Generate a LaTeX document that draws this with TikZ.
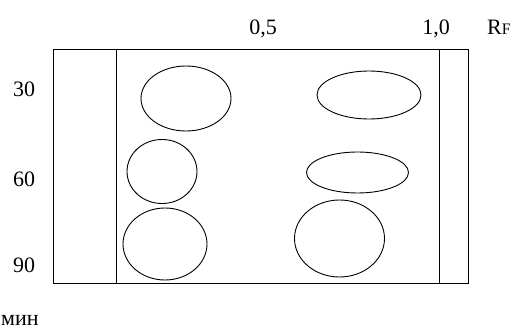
\documentclass[tikz,border=0pt]{standalone}
\usepackage{fontspec}
\setmainfont{Liberation Serif}
\usepackage{tikz}
\usetikzlibrary{positioning}

\tikzset{
  rand/.style={line width=0.9pt, black},
  fleck/.style={line width=0.9pt, black},
  lbl/.style={inner sep=0pt, anchor=base, font=\fontsize{22}{26}\selectfont}
}

\begin{document}
\begin{tikzpicture}[x=1pt, y=-1pt]
      \useasboundingbox (0,0) rectangle (515,334);

      % Rahmen
      \coordinate (nw) at (53,49);
      \coordinate (se) at (468,283);
      \draw[rand] (nw) rectangle (se);
      \draw[rand] (116,49) -- (116,283);
      \draw[rand] (439,49) -- (439,283);

      % Flecken
      \draw[fleck] (186,98.5) ellipse (45 and 32.5);
      \draw[fleck] (369,95) ellipse (52 and 24);
      \draw[fleck] (162,171.5) ellipse (35 and 32);
      \draw[fleck] (357.5,172.5) ellipse (51 and 20.5);
      \draw[fleck] (165,244) ellipse (42 and 36);
      \draw[fleck] (339.5,238.5) ellipse (45 and 38.5);

      % Skala oben
      \node[lbl] (half) at (263,35) {0,5};
      \node[lbl] (one) at (436,35) {1,0};
      \node[lbl, anchor=base west] (rf) at (487,35)
        {R\fontsize{16}{16}\selectfont F};

      % Zeit links
      \node[lbl] (t30) at (24,97) {30};
      \node[lbl] (t60) at (24,187) {60};
      \node[lbl] (t90) at (24,273) {90};
      \node[lbl, anchor=base west] (min) at (1,326) {мин};
    \end{tikzpicture}
\end{document}
